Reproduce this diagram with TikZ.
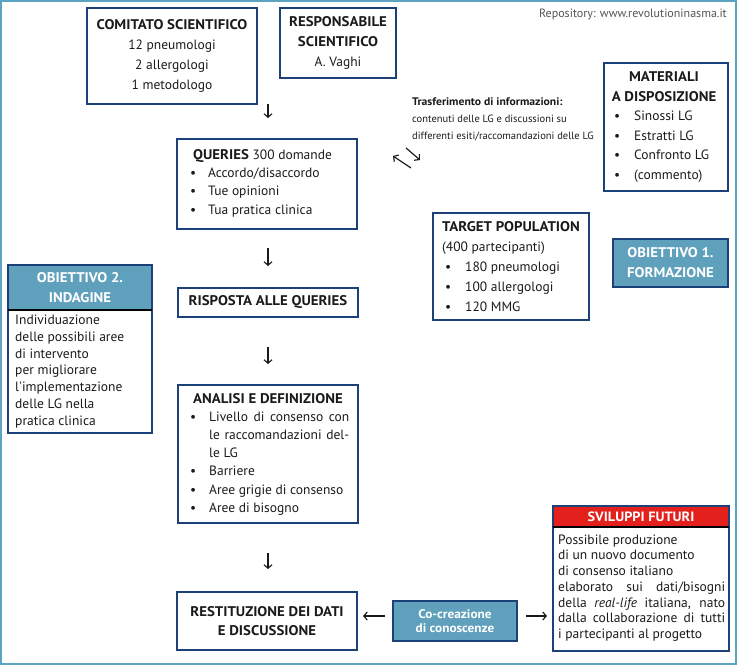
\documentclass[tikz,border=0pt]{standalone}
\usepackage{fontspec}
\setmainfont{PT Sans}[BoldFeatures={FakeStretch=1.06}]
\usetikzlibrary{arrows.meta}
\definecolor{navy}{HTML}{1B4178}
\definecolor{teal1}{HTML}{5FA0BC}
\definecolor{frame1}{HTML}{5BA3C0}
\definecolor{red1}{HTML}{E3201B}
\definecolor{ink}{HTML}{1A1A1A}
\definecolor{grey1}{HTML}{555555}
\newcommand{\mybul}[1][18pt]{\makebox[#1][l]{\textbullet}}
\newcommand{\hb}[1]{{\fontsize{14}{20}\selectfont\textbf{#1}}}
\tikzset{
  box/.style={draw=navy, line width=1.2pt, inner sep=0pt, text=ink, align=center},
  txt/.style={inner sep=0pt, text=ink, font=\fontsize{13.5}{19}\selectfont},
  arr/.style={-{Straight Barb[length=3.5pt,width=8pt]}, line width=1.15pt, draw=ink},
  hdfont/.style={font=\bfseries\fontsize{14}{20}\selectfont},
}
\begin{document}
\begin{tikzpicture}[x=1pt,y=-1pt]
\useasboundingbox (0,0) rectangle (737,665);
\draw[frame1, line width=2pt] (1,1) rectangle (736,664);

\node[anchor=base east, inner sep=0pt, text=grey1, font=\fontsize{12}{14}\selectfont] (repo) at (727,17) {Repository: www.revolutioninasma.it};

% Comitato
\node[box, minimum width=170pt, minimum height=96pt, font=\fontsize{13.5}{20}\selectfont] (com) at (172,56)
  {\hb{COMITATO SCIENTIFICO}\\12 pneumologi\\2 allergologi\\1 metodologo};
% Responsabile
\node[box, minimum width=116pt, minimum height=70pt, font=\fontsize{13.5}{20}\selectfont] (resp) at (338,43)
  {\hb{RESPONSABILE}\\\hb{SCIENTIFICO}\\A. Vaghi};

% Queries
\node[box, minimum width=180pt, minimum height=90pt] (que) at (267,184) {};
\node[txt, anchor=west, align=left, font=\fontsize{13.5}{18.3}\selectfont] (quet) at (190,183)
  {\hspace*{3pt}\hb{QUERIES} 300 domande\\\mybul Accordo/disaccordo\\\mybul Tue opinioni\\\mybul Tua pratica clinica};

% Trasferimento
\node[txt, anchor=west, align=left, font=\fontsize{10.5}{17}\selectfont] (tras) at (412,119)
  {{\fontsize{11}{17}\selectfont\textbf{Trasferimento di informazioni:}}\\contenuti delle LG e discussioni su\\differenti esiti/raccomandazioni delle LG};
\coordinate (t1a) at (406,148); \coordinate (t1b) at (420,160);
\coordinate (t2a) at (411,168); \coordinate (t2b) at (393,156);
\draw[arr] (t1a) -- (t1b);
\draw[arr] (t2a) -- (t2b);

% Materiali
\node[box, minimum width=124pt, minimum height=128pt] (mat) at (666,127) {};
\node[txt, hdfont, align=center] (math) at (664,87) {MATERIALI\\A DISPOSIZIONE};
\node[txt, anchor=west, align=left, font=\fontsize{13.5}{19.6}\selectfont] (matb) at (614,146.5)
  {\mybul[20pt]Sinossi LG\\\mybul[20pt]Estratti LG\\\mybul[20pt]Confronto LG\\\mybul[20pt](commento)};

% Target population
\node[box, minimum width=156pt, minimum height=107pt] (tar) at (511,266.5) {};
\node[txt, anchor=west, align=left, font=\fontsize{13.5}{20}\selectfont] (tart) at (442,267)
  {\hb{TARGET POPULATION}\\(400 partecipanti)\\\hspace*{3pt}\mybul[20pt]180 pneumologi\\\hspace*{3pt}\mybul[20pt]100 allergologi\\\hspace*{3pt}\mybul[20pt]120 MMG};

% Obiettivo 1
\node[box, fill=teal1, text=white, hdfont, minimum width=115pt, minimum height=48pt] (ob1) at (670.5,263)
  {OBIETTIVO 1.\\FORMAZIONE};

% Obiettivo 2
\node[fill=teal1, text=white, inner sep=0pt, hdfont, align=center, minimum width=144pt, minimum height=45pt] (ob2h) at (80,287.5)
  {OBIETTIVO 2.\\INDAGINE};
\node[box, minimum width=144pt, minimum height=168pt] (ob2) at (80,349) {};
\draw[line width=2pt, black] (ob2h.south west) -- (ob2h.south east);
\node[txt, anchor=west, align=left, font=\fontsize{13.5}{16.8}\selectfont] (ob2t) at (15,371.5)
  {Individuazione\\delle possibili aree\\di intervento\\per migliorare\\l\textquotesingle implementazione\\delle LG nella\\pratica clinica};

% Risposta
\node[box, minimum width=180pt, minimum height=29pt, hdfont] (risp) at (268,302.5) {RISPOSTA ALLE QUERIES};

% Analisi
\node[box, minimum width=180pt, minimum height=138pt] (ana) at (268,454) {};
\node[txt, hdfont] (anah) at (268,399) {ANALISI E DEFINIZIONE};
\node[txt, anchor=west, align=left, font=\fontsize{13.5}{18.2}\selectfont] (anat) at (190,463.5)
  {\mybul[19pt]\makebox[140pt][s]{Livello di consenso con}\\
   \hspace*{19pt}\makebox[140pt][s]{le raccomandazioni del-}\\
   \hspace*{19pt}le LG\\
   \mybul[19pt]Barriere\\
   \mybul[19pt]Aree grigie di consenso\\
   \mybul[19pt]Aree di bisogno};

% Restituzione
\node[box, minimum width=180pt, minimum height=58pt, font=\bfseries\fontsize{14}{19}\selectfont] (rest) at (267,621)
  {RESTITUZIONE DEI DATI\\E DISCUSSIONE};

% Co-creazione
\node[box, fill=teal1, text=white, minimum width=124pt, minimum height=40pt, font=\bfseries\fontsize{12.5}{13.5}\selectfont] (cocr) at (455,621)
  {Co-creazione\\di conoscenze};

% Sviluppi futuri
\node[fill=red1, text=white, inner sep=0pt, minimum width=176pt, minimum height=21pt, font=\bfseries\fontsize{13.5}{14}\selectfont] (svih) at (641,516.5) {SVILUPPI FUTURI};
\node[box, minimum width=176pt, minimum height=145pt] (svi) at (641,578.5) {};
\draw[line width=2pt, black] (svih.south west) -- (svih.south east);
\node[txt, anchor=west, align=left, font=\fontsize{13.5}{15.7}\selectfont] (svit) at (558,588)
  {Possibile produzione\\di un nuovo documento\\di consenso italiano\\
   \makebox[167pt][s]{elaborato sui dati/bisogni}\\
   \makebox[167pt][s]{della \textit{real-life} italiana, nato}\\
   \makebox[167pt][s]{dalla collaborazione di tutti}\\
   i partecipanti al progetto};

% Down arrows
\coordinate (d1a) at (268,104); \coordinate (d1b) at (268,118);
\coordinate (d2a) at (268,248); \coordinate (d2b) at (268,266);
\coordinate (d3a) at (268,347); \coordinate (d3b) at (268,364);
\coordinate (d4a) at (268,553); \coordinate (d4b) at (268,569);
\draw[arr] (d1a) -- (d1b);
\draw[arr] (d2a) -- (d2b);
\draw[arr] (d3a) -- (d3b);
\draw[arr] (d4a) -- (d4b);

% Side arrows
\coordinate (l1a) at (385,616); \coordinate (l1b) at (363,616);
\coordinate (r1a) at (526,616); \coordinate (r1b) at (547,616);
\draw[arr] (l1a) -- (l1b);
\draw[arr] (r1a) -- (r1b);
\end{tikzpicture}
\end{document}
